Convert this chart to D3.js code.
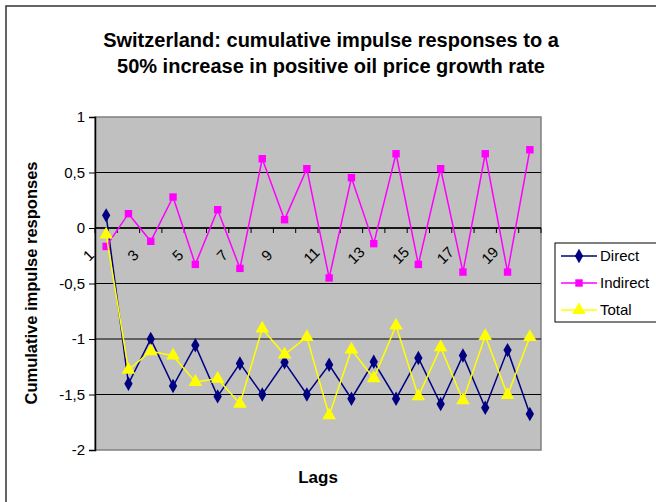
<!DOCTYPE html>
<html><head><meta charset="utf-8">
<script src="https://cdn.jsdelivr.net/npm/d3@7/dist/d3.min.js"></script>
<style>body{margin:0;background:#fff}svg{display:block}text{font-family:"Liberation Sans",Arial,sans-serif}</style>
</head><body><svg id="c" width="656" height="502"></svg>
<script>
const lags = d3.range(1, 21);
const direct = [0.114,-1.403,-1.0,-1.424,-1.057,-1.517,-1.22,-1.50,-1.21,-1.50,-1.232,-1.538,-1.205,-1.538,-1.171,-1.586,-1.148,-1.619,-1.10,-1.676];
const indirect = [-0.166,0.129,-0.12,0.279,-0.328,0.165,-0.364,0.624,0.075,0.534,-0.45,0.453,-0.141,0.669,-0.328,0.534,-0.397,0.669,-0.397,0.705];
const total = [-0.06,-1.277,-1.11,-1.15,-1.387,-1.358,-1.583,-0.907,-1.141,-0.982,-1.688,-1.096,-1.355,-0.88,-1.517,-1.075,-1.553,-0.973,-1.505,-0.982];
const yTicks = [1,0.5,0,-0.5,-1,-1.5,-2];
const seriesNames = ["Direct","Indirect","Total"];
const title = ["Switzerland: cumulative impulse responses to a","50% increase in positive oil price growth rate"];

const svg = d3.select("#c");
const L=95, R=541, T=117, B=450;
const x = d3.scaleBand().domain(lags).range([L,R]);
const y = d3.scaleLinear().domain([-2,1]).range([B,T]);
const fmt = v => String(v).replace(".", ",");

// outer border
svg.append("rect").attr("x",6).attr("y",6).attr("width",700).attr("height",600)
  .attr("fill","#fff").attr("stroke","#333").attr("stroke-width",1.5);

// title
svg.append("text").attr("x",331).attr("y",47).attr("text-anchor","middle").attr("font-size",20).attr("font-weight","bold").text(title[0]);
svg.append("text").attr("x",331).attr("y",73).attr("text-anchor","middle").attr("font-size",20).attr("font-weight","bold").text(title[1]);

// plot area
svg.append("rect").attr("x",L).attr("y",T).attr("width",R-L).attr("height",B-T).attr("fill","#c0c0c0").attr("stroke","#808080").attr("stroke-width",1.5);
// gridlines
svg.append("g").selectAll("line").data(yTicks.filter(v=>v>-2&&v<1)).join("line")
  .attr("x1",L).attr("x2",R).attr("y1",d=>y(d)).attr("y2",d=>y(d)).attr("stroke","#000").attr("stroke-width",1);

// y axis
const ya = svg.append("g").attr("transform",`translate(${L},0)`).call(d3.axisLeft(y).tickValues(yTicks).tickFormat(fmt).tickSize(6).tickPadding(4));
ya.select(".domain").attr("stroke","#000").attr("stroke-width",1.5);
ya.selectAll("text").attr("font-size",15).attr("font-family","Liberation Sans, Arial, sans-serif").attr("fill","#000");

// x axis at y=0
const y0 = y(0);
svg.append("line").attr("x1",L).attr("x2",R).attr("y1",y0).attr("y2",y0).attr("stroke","#000").attr("stroke-width",1.5);
const bounds = lags.map(d=>x(d)).concat([R]);
svg.append("g").selectAll("line").data(bounds).join("line")
  .attr("x1",d=>d).attr("x2",d=>d).attr("y1",y0).attr("y2",y0+5).attr("stroke","#000");
svg.append("g").selectAll("text").data(lags.filter(d=>d%2===1)).join("text")
  .attr("transform",d=>`translate(${x(d)+x.bandwidth()/2-14},${y0+31}) rotate(-45)`)
  .attr("text-anchor","middle").attr("font-size",15).text(d=>d);

// axis titles
svg.append("text").attr("transform","translate(37,283) rotate(-90)").attr("text-anchor","middle").attr("font-size",16.5).attr("font-weight","bold").text("Cumulative impulse responses");
svg.append("text").attr("x",318).attr("y",483).attr("text-anchor","middle").attr("font-size",17).attr("font-weight","bold").text("Lags");

// series
const colors = ["#000080","#ff00ff","#ffff00"];
const data = [direct, indirect, total];
const symbols = [d3.symbolDiamond, d3.symbolSquare, d3.symbolTriangle];
const sizes = [60, 55, 80];
const cx = d => x(d)+x.bandwidth()/2;
const line = d3.line().x((v,i)=>cx(lags[i])).y(v=>y(v));
data.forEach((s,k)=>{
  svg.append("path").attr("d",line(s)).attr("fill","none").attr("stroke",colors[k]).attr("stroke-width",1.5);
  svg.append("g").selectAll("path").data(s).join("path")
    .attr("transform",(v,i)=>`translate(${cx(lags[i])},${y(v)})`)
    .attr("d",d3.symbol().type(symbols[k]).size(sizes[k])).attr("fill",colors[k]);
});

// legend
const lg = svg.append("g");
lg.append("rect").attr("x",555).attr("y",243).attr("width",120).attr("height",79).attr("fill","#fff").attr("stroke","#000");
seriesNames.forEach((n,k)=>{
  const yy = 256 + k*27;
  lg.append("line").attr("x1",561).attr("x2",597).attr("y1",yy).attr("y2",yy).attr("stroke",colors[k]).attr("stroke-width",1.5);
  lg.append("path").attr("transform",`translate(579,${yy})`).attr("d",d3.symbol().type(symbols[k]).size(sizes[k])).attr("fill",colors[k]);
  lg.append("text").attr("x",600).attr("y",yy+5).attr("font-size",15).text(n);
});
</script></body></html>
